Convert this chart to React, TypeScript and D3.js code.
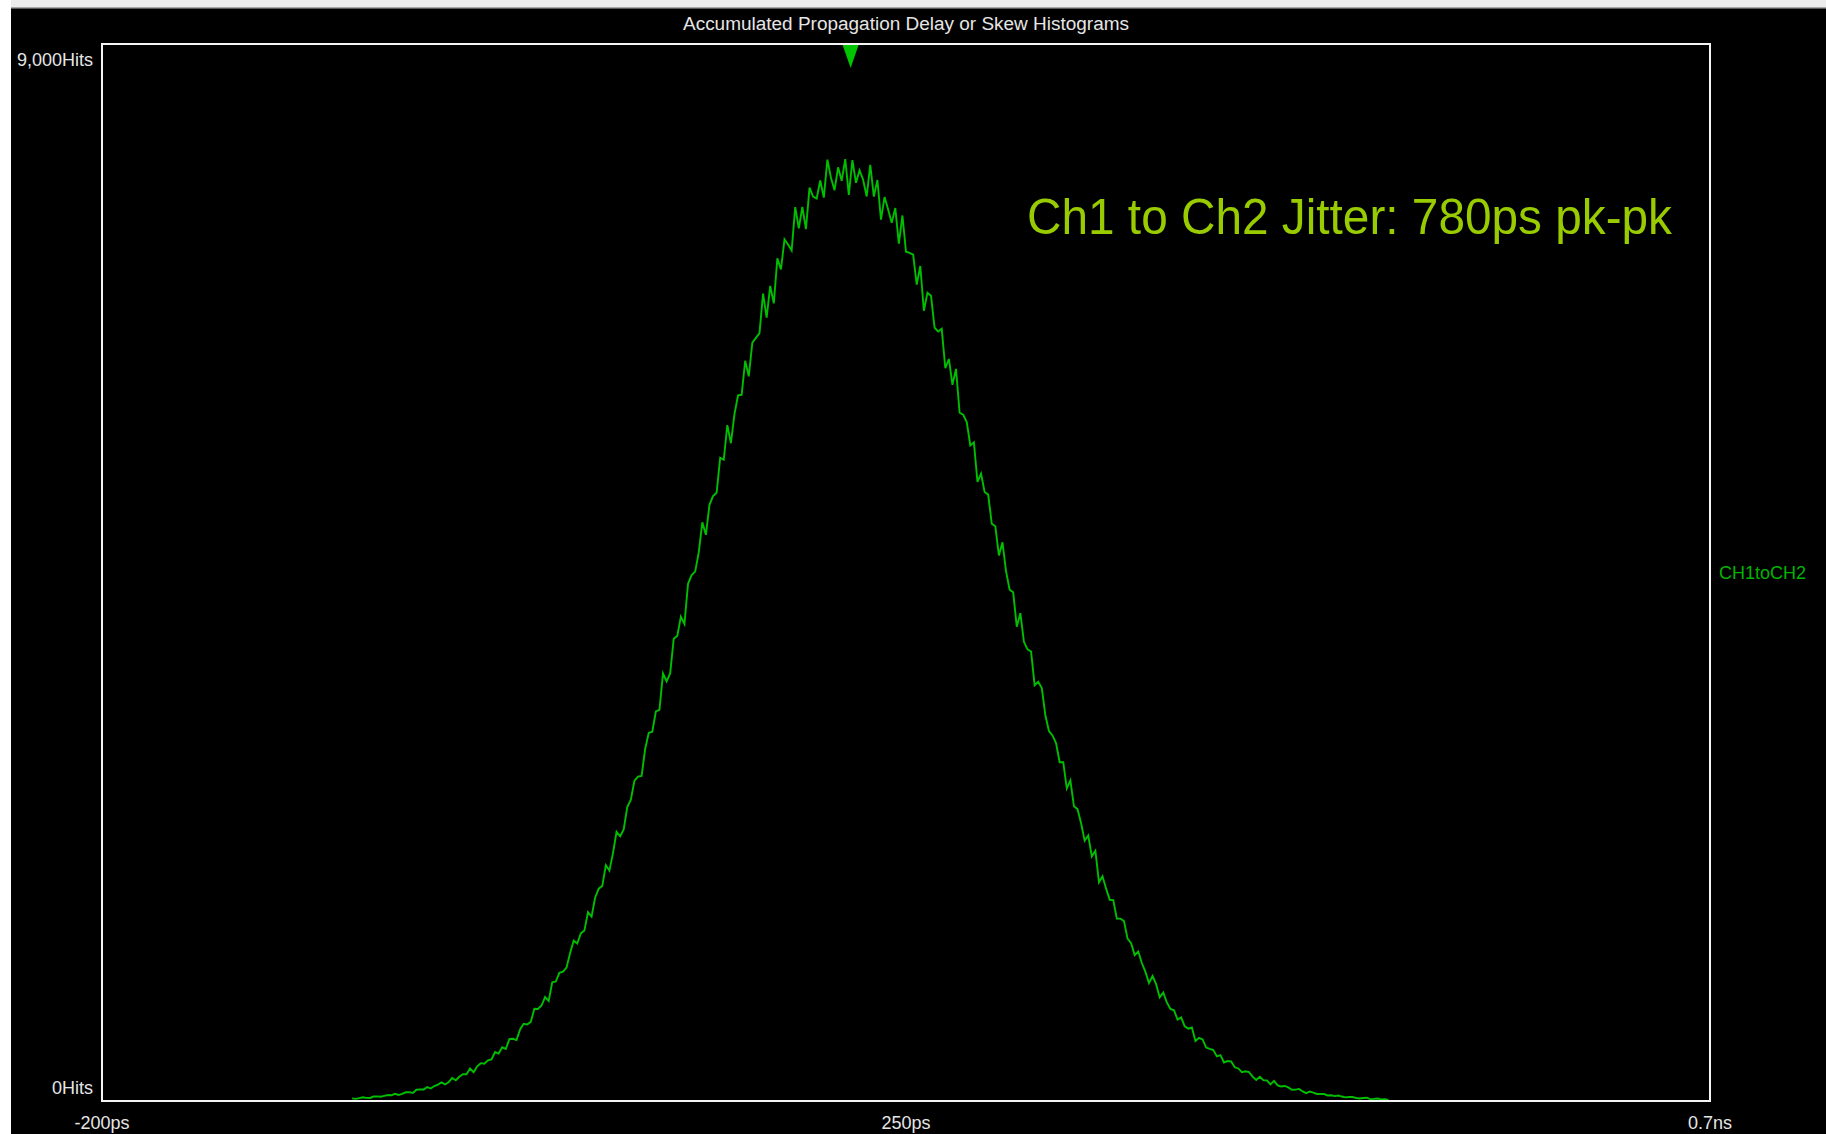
import React, { useEffect, useRef } from 'react';
import * as d3 from 'd3';

const W = 1826, H = 1134;

// histogram, 2ps bins starting at -60ps
const binStartPs = -60;
const binWidthPs = 2;

// -60ps .. 138ps
const hitsRising = [
  22, 18, 24, 32, 27, 26, 38, 39, 36, 44, 51, 49, 61, 52, 61, 74, 75, 69, 96, 99,
  98, 118, 106, 127, 140, 158, 141, 160, 196, 177, 206, 229, 228, 276, 245, 295, 322, 318, 347, 354,
  417, 404, 457, 443, 527, 530, 519, 609, 657, 651, 674, 785, 784, 813, 885, 852, 1010, 1017, 1091, 1102,
  1136, 1261, 1365, 1341, 1427, 1451, 1607, 1570, 1731, 1808, 1831, 2008, 1962, 2111, 2292, 2254, 2312, 2502, 2565, 2727,
  2762, 2767, 2997, 3134, 3144, 3317, 3330, 3640, 3572, 3641, 3936, 3962, 4124, 4061, 4404, 4478, 4508, 4672, 4927, 4821,
];
// 140ps .. 298ps
const hitsPeak = [
  5076, 5150, 5179, 5477, 5460, 5755, 5601, 5850, 6008, 6013, 6303, 6170, 6457, 6498, 6539, 6875, 6671, 6941, 6792, 7176,
  7080, 7336, 7293, 7242, 7611, 7431, 7612, 7424, 7777, 7700, 7684, 7838, 7692, 8016, 7861, 7755, 7950, 7835, 8020, 7716,
  8011, 7818, 7925, 7844, 7702, 7972, 7701, 7842, 7504, 7697, 7591, 7477, 7603, 7301, 7540, 7231, 7222, 7207, 6952, 7110,
  6729, 6882, 6856, 6584, 6552, 6575, 6239, 6318, 6098, 6234, 5860, 5843, 5781, 5582, 5608, 5272, 5342, 5185, 5163, 4915,
];
// 300ps .. 520ps
const hitsFalling = [
  4893, 4645, 4757, 4510, 4353, 4331, 4039, 4154, 3910, 3846, 3827, 3540, 3569, 3516, 3284, 3150, 3113, 3046, 2884, 2885,
  2662, 2729, 2509, 2485, 2365, 2216, 2260, 2083, 2131, 1862, 1913, 1808, 1713, 1710, 1553, 1553, 1532, 1382, 1343, 1242,
  1273, 1175, 1099, 1004, 1064, 995, 882, 924, 839, 784, 772, 693, 712, 636, 616, 626, 511, 538, 524, 455,
  443, 433, 380, 390, 328, 340, 337, 287, 277, 245, 253, 246, 208, 179, 206, 178, 175, 141, 171, 133,
  124, 128, 116, 96, 97, 103, 81, 67, 81, 72, 60, 59, 59, 47, 49, 42, 47, 38, 31, 34,
  34, 25, 21, 25, 28, 14, 18, 21, 14, 16, 9,
];

const xTickValues = [-200, 250, 700];
const xTickLabels = ['-200ps', '250ps', '0.7ns'];
const yTickValues = [9000, 0];
const yTickLabels = ['9,000Hits', '0Hits'];
const xDomain = [-200, 700];
const yDomain = [0, 9000];
const markerPs = 219;
const seriesName = 'CH1toCH2';
const chartTitle = 'Accumulated Propagation Delay or Skew Histograms';
const annotation = 'Ch1 to Ch2 Jitter: 780ps pk-pk';

const FONT = '"Liberation Sans", Arial, sans-serif';
const labelColor = '#e6e6e6';
const traceColor = '#00be00';

export default function App() {
  const ref = useRef<SVGSVGElement | null>(null);

  useEffect(() => {
    const margin = { left: 102, right: 116, top: 44, bottom: 33 };
    const x = d3.scaleLinear().domain(xDomain).range([margin.left, W - margin.right]);
    const y = d3.scaleLinear().domain(yDomain).range([H - margin.bottom, margin.top]);

    const hits = hitsRising.concat(hitsPeak, hitsFalling);
    const bins = hits.map((h, i) => ({ ps: binStartPs + i * binWidthPs, hits: h }));

    const svg = d3.select(ref.current);
    svg.selectAll('*').remove();

    // window chrome
    svg.append('rect').attr('width', W).attr('height', H).attr('fill', '#ffffff');
    svg.append('rect').attr('x', 11).attr('width', W - 11).attr('height', 8).attr('fill', '#ececec');
    svg.append('rect').attr('x', 11).attr('y', 7).attr('width', W - 11).attr('height', 1).attr('fill', '#a8a8a8');
    svg.append('rect').attr('x', 11).attr('y', 8).attr('width', W - 11).attr('height', 1).attr('fill', '#5a5a5a');
    svg.append('rect').attr('x', 11).attr('y', 9).attr('width', W - 11).attr('height', H - 9).attr('fill', '#000000');

    svg.append('text')
      .attr('x', (x(xDomain[0]) + x(xDomain[1])) / 2)
      .attr('y', 30)
      .attr('text-anchor', 'middle')
      .attr('font-family', FONT)
      .attr('font-size', 18)
      .attr('fill', labelColor)
      .attr('textLength', 446)
      .attr('lengthAdjust', 'spacingAndGlyphs')
      .text(chartTitle);

    // trace
    const line = d3.line<{ ps: number; hits: number }>()
      .x(d => x(d.ps))
      .y(d => y(d.hits));
    svg.append('path')
      .datum(bins)
      .attr('d', line)
      .attr('fill', 'none')
      .attr('stroke', traceColor)
      .attr('stroke-width', 1.9)
      .attr('stroke-linejoin', 'miter');

    // frame
    svg.append('rect')
      .attr('x', x(xDomain[0]))
      .attr('y', y(yDomain[1]))
      .attr('width', x(xDomain[1]) - x(xDomain[0]))
      .attr('height', y(yDomain[0]) - y(yDomain[1]))
      .attr('fill', 'none')
      .attr('stroke', '#f4f4f4')
      .attr('stroke-width', 2);

    // mean marker
    const mx = x(markerPs), my = y(yDomain[1]) + 1;
    svg.append('path')
      .attr('d', `M${mx - 8},${my} L${mx + 8},${my} L${mx},${my + 23} Z`)
      .attr('fill', '#00c400');

    // y ticks
    svg.selectAll('.y-label')
      .data(yTickValues)
      .enter().append('text')
      .attr('class', 'y-label')
      .attr('x', x(xDomain[0]) - 9)
      .attr('y', d => y(d) + (d === yDomain[1] ? 22 : -7))
      .attr('text-anchor', 'end')
      .attr('font-family', FONT)
      .attr('font-size', 18)
      .attr('fill', labelColor)
      .text((d, i) => yTickLabels[i]);

    // x ticks
    svg.selectAll('.x-label')
      .data(xTickValues)
      .enter().append('text')
      .attr('class', 'x-label')
      .attr('x', d => x(d))
      .attr('y', y(yDomain[0]) + 28)
      .attr('text-anchor', 'middle')
      .attr('font-family', FONT)
      .attr('font-size', 18)
      .attr('fill', labelColor)
      .text((d, i) => xTickLabels[i]);

    // series label
    svg.append('text')
      .attr('x', x(xDomain[1]) + 9)
      .attr('y', 579)
      .attr('font-family', FONT)
      .attr('font-size', 18)
      .attr('fill', '#00b400')
      .text(seriesName);

    // annotation
    svg.append('text')
      .attr('x', 1027)
      .attr('y', 234)
      .attr('font-family', FONT)
      .attr('font-size', 50)
      .attr('fill', '#99cc00')
      .attr('textLength', 645)
      .attr('lengthAdjust', 'spacingAndGlyphs')
      .text(annotation);
  }, []);

  return (
    <svg
      ref={ref}
      width={W}
      height={H}
      style={{ position: 'absolute', left: 0, top: 0, display: 'block' }}
    />
  );
}
